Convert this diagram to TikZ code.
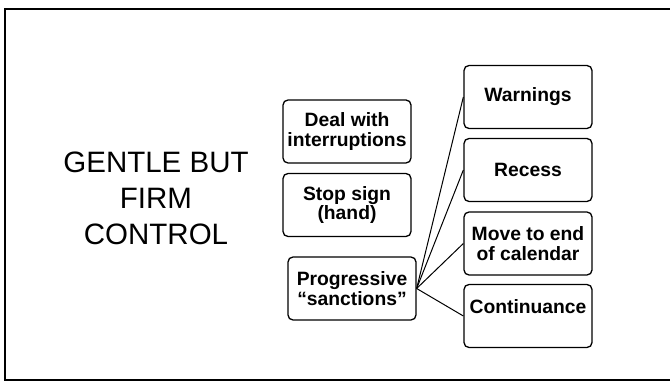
\documentclass[tikz,border=0pt]{standalone}
\usepackage{fontspec}
\setmainfont{Liberation Sans}
\usepackage{tikz}
\usetikzlibrary{positioning}

\begin{document}
\begin{tikzpicture}[x=1pt, y=-1pt,
    stepbox/.style={draw, line width=1.3pt, rounded corners=5pt, minimum width=128pt,
        minimum height=63pt, inner sep=0pt, align=center,
        font=\fontsize{19.3}{19.3}\selectfont\bfseries},
    link/.style={line width=1pt},
]
    \useasboundingbox (0, 0) rectangle (670, 382);

    % slide frame
    \draw[line width=2pt] (670, 9) -- (5, 9) -- (5, 380) -- (670, 380);

    % title
    \node[align=center, inner sep=0pt, font=\fontsize{29.5}{36}\selectfont] (title) at (156, 198)
        {GENTLE BUT\\FIRM\\CONTROL};

    % left column
    \node[stepbox] (deal) at (347, 131.5) {Deal with\\interruptions};
    \node[stepbox] (stop) at (347, 205) {Stop sign\\(hand)};
    \node[stepbox] (prog) at (352, 288.5) {Progressive\\``sanctions''};

    % right column
    \node[stepbox] (warn) at (528, 97) {Warnings};
    \node[stepbox] (recess) at (528, 170) {Recess};
    \node[stepbox] (move) at (528, 243.5) {Move to end\\of calendar};
    \node[stepbox] (cont) at (528, 316) {Continuance\\\mbox{}};

    % sanctions fan out
    \draw[link] (prog.east) -- (warn.west);
    \draw[link] (prog.east) -- (recess.west);
    \draw[link] (prog.east) -- (move.west);
    \draw[link] (prog.east) -- (cont.west);
\end{tikzpicture}
\end{document}
